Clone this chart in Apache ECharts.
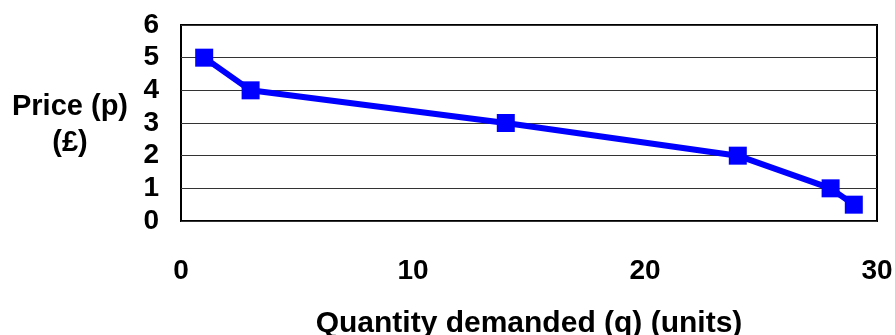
<!DOCTYPE html>
<html><head><meta charset="utf-8">
<script src="https://cdn.jsdelivr.net/npm/echarts@6/dist/echarts.min.js"></script>
<style>html,body{margin:0;padding:0;background:#fff}#c{width:895px;height:335px}</style>
</head><body><div id="c"></div>
<script>
var quantity = [1, 3, 14, 24, 28, 29];
var price = [5, 4, 3, 2, 1, 0.5];
var xTicks = [0, 10, 20, 30];
var yTicks = [0, 1, 2, 3, 4, 5, 6];
var xName = 'Quantity demanded (q) (units)';
var yName = ['Price (p)', '(£)'];

var FONT = '"Liberation Sans", Arial, sans-serif';
var chart = echarts.init(document.getElementById('c'), null, {renderer: 'canvas'});
chart.setOption({
  animation: false,
  backgroundColor: '#fff',
  grid: {left: 181, top: 25, right: 18, bottom: 114, containLabel: false, outerBoundsMode: 'none',
         show: true, borderColor: '#000', borderWidth: 2, backgroundColor: 'transparent'},
  xAxis: {
    type: 'value', min: xTicks[0], max: xTicks[xTicks.length - 1], interval: 10,
    axisLine: {show: false}, axisTick: {show: false}, splitLine: {show: false},
    axisLabel: {color: '#000', fontFamily: FONT, fontWeight: 'bold', fontSize: 28, margin: 36},
    name: xName, nameLocation: 'middle', nameGap: 88,
    nameTextStyle: {color: '#000', fontFamily: FONT, fontWeight: 'bold', fontSize: 30}
  },
  yAxis: {
    type: 'value', min: yTicks[0], max: yTicks[yTicks.length - 1], interval: 1,
    axisLine: {show: false}, axisTick: {show: false},
    splitLine: {show: true, lineStyle: {color: '#333', width: 1}},
    axisLabel: {color: '#000', fontFamily: FONT, fontWeight: 'bold', fontSize: 28, margin: 22}
  },
  graphic: [{
    type: 'text', x: 70, y: 125,
    style: {text: yName.join('\n'), fontFamily: FONT, fontWeight: 'bold', fontSize: 29, lineHeight: 36, fill: '#000', align: 'center', verticalAlign: 'middle'}
  }],
  series: [{
    type: 'line',
    data: quantity.map(function (q, i) { return [q, price[i]]; }),
    symbol: 'rect', symbolSize: 18,
    lineStyle: {color: '#0000ff', width: 6},
    itemStyle: {color: '#0000ff'}
  }]
});
</script></body></html>
